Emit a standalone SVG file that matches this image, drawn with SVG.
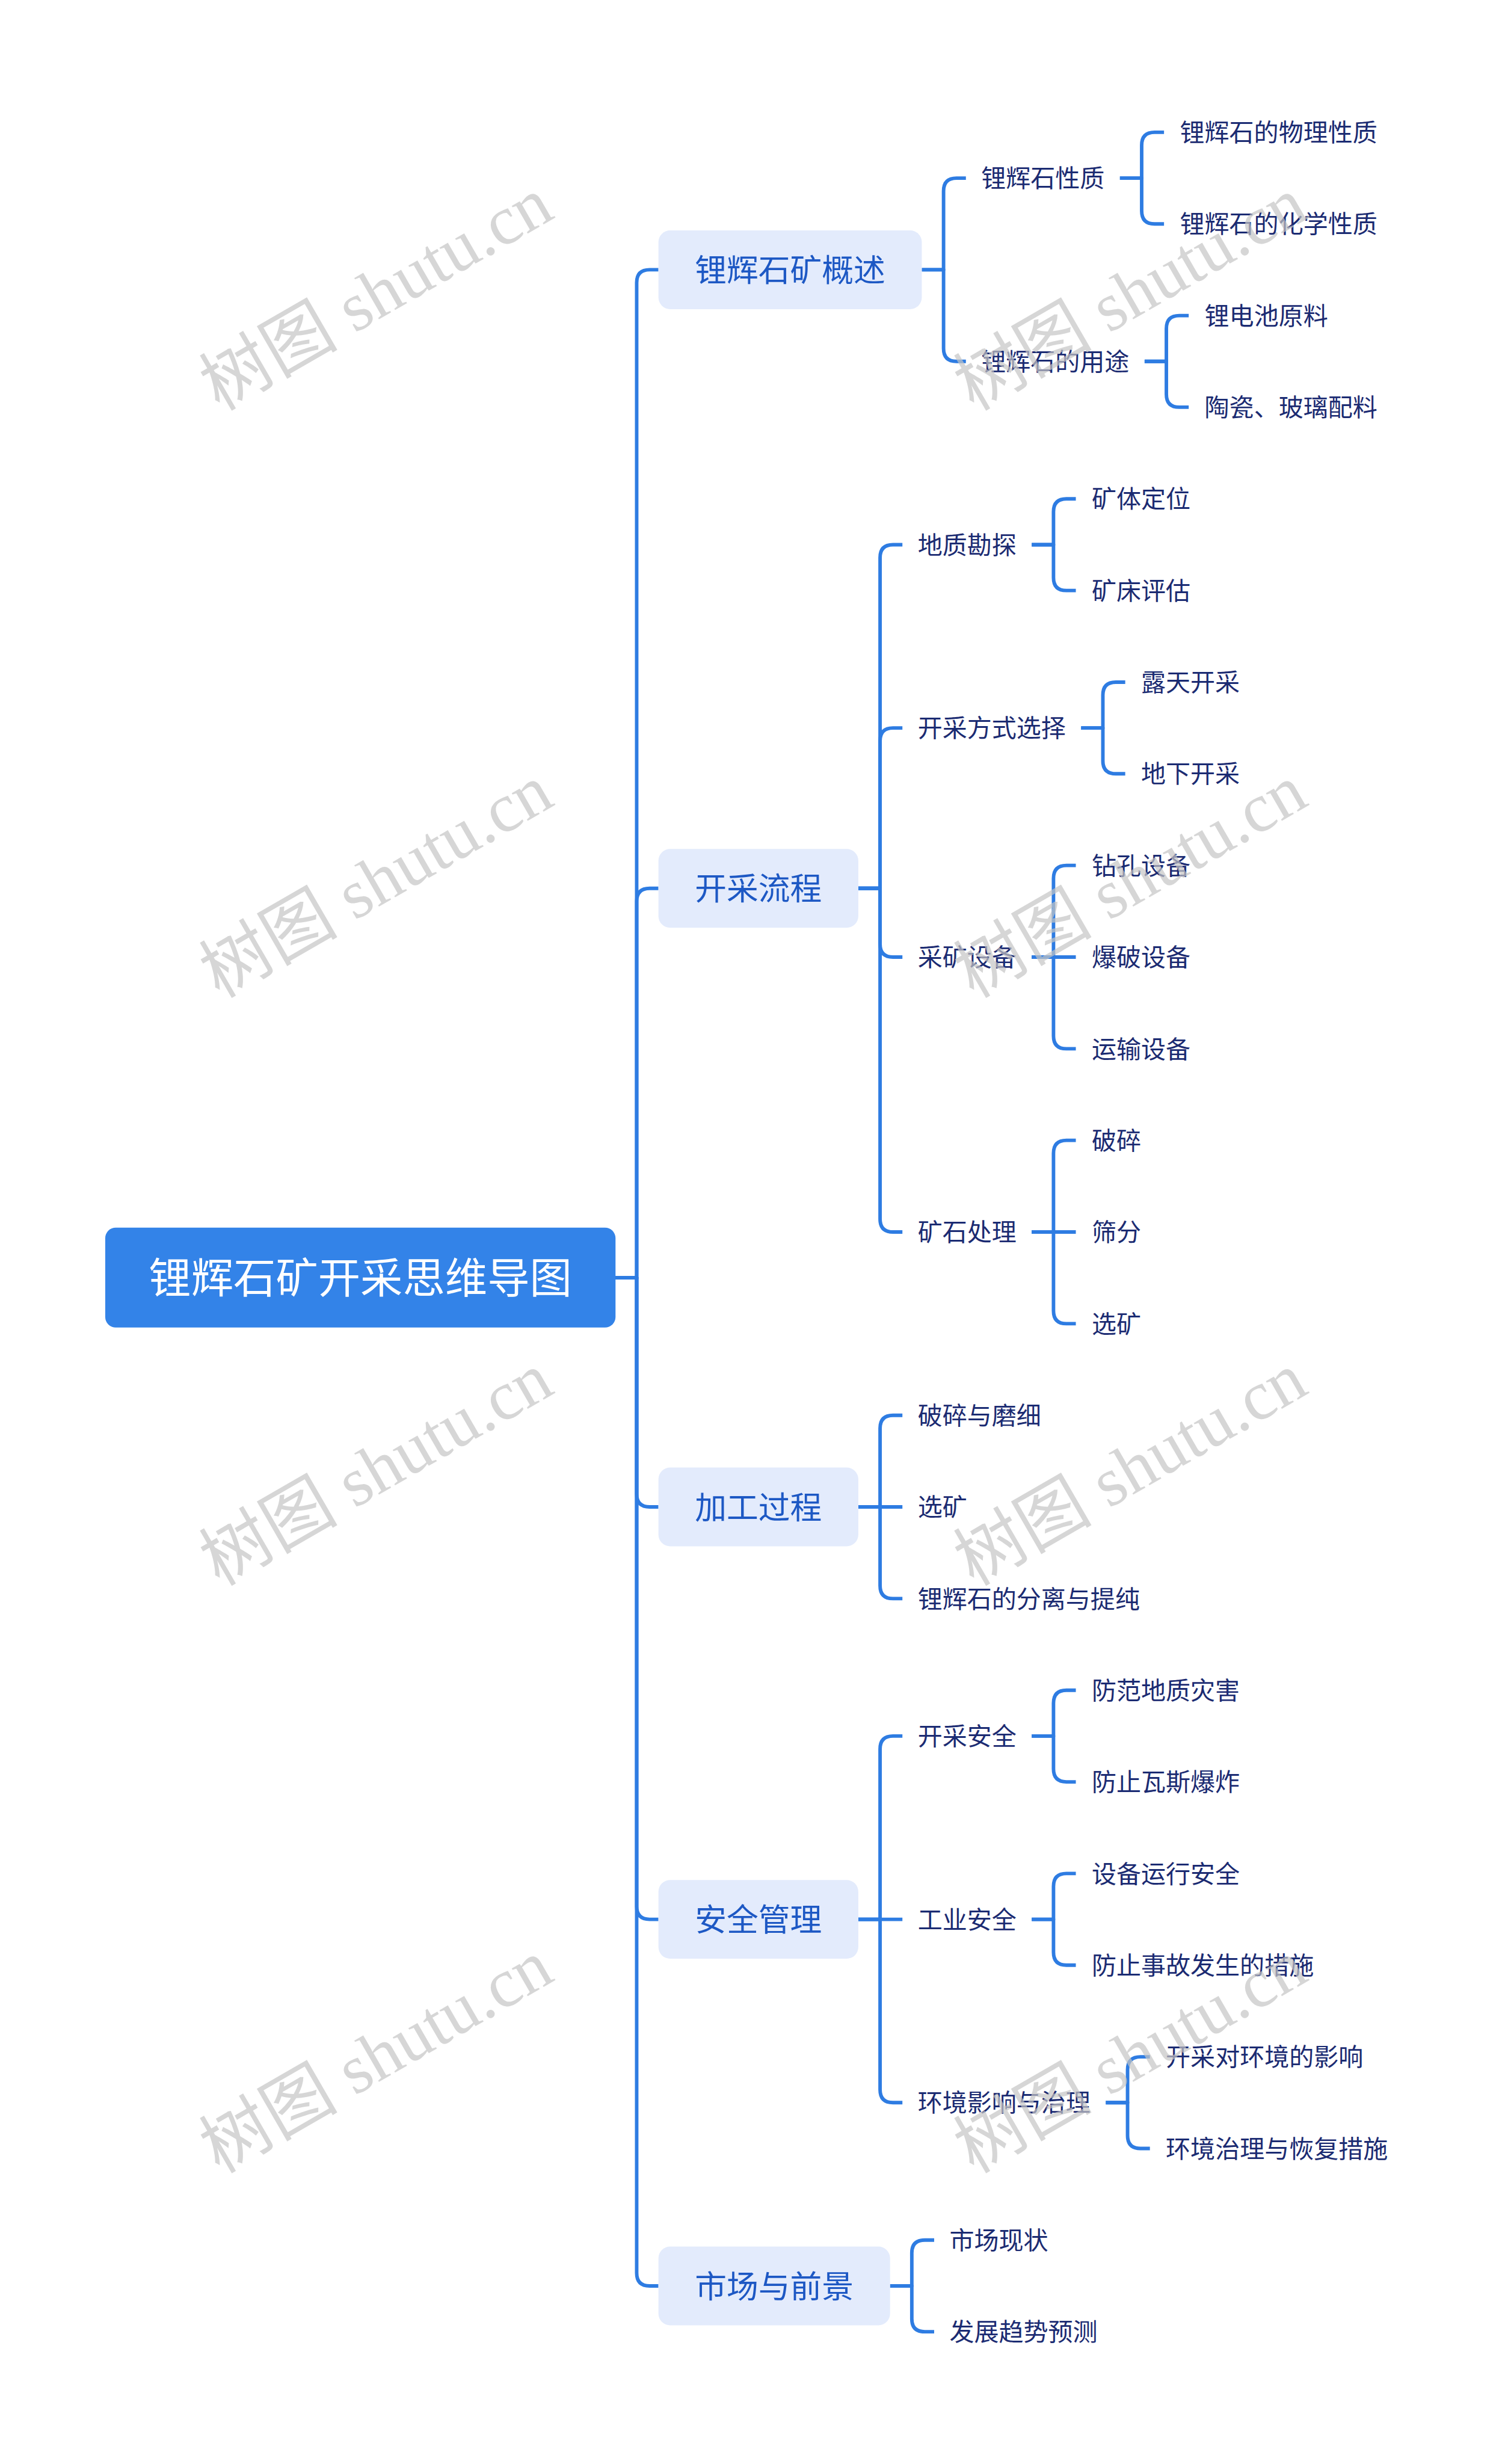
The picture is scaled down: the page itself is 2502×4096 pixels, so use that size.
<svg xmlns="http://www.w3.org/2000/svg" width="2502" height="4096" viewBox="0 0 2502 4096">
<style>
.ln{fill:none;stroke:#2e7ce2;stroke-width:6;stroke-linecap:butt;stroke-linejoin:round}
.rootbox{fill:#3383e8}
.rt{font-family:"Noto Sans CJK SC",sans-serif;font-size:72px;fill:#ffffff;text-anchor:middle}
.b1{fill:#e3ebfc}
.t1{font-family:"Noto Sans CJK SC",sans-serif;font-size:54px;fill:#1d58c4;text-anchor:middle}
.t{font-family:"Noto Sans CJK SC",sans-serif;font-size:42px;fill:#1b2b72}
.wm{font-family:"Liberation Serif","Noto Sans CJK SC",serif;font-size:118px;fill:#c4c4c4;fill-opacity:0.7}
</style>
<rect width="2502" height="4096" fill="#ffffff"/>
<g transform="scale(0.97734)">
<g id="connectors">
<path class="ln" d="M1047,2173.4 H1083 V480.8 Q1083,458.8 1105,458.8 H1120"/>
<path class="ln" d="M1047,2173.4 H1083 V1533 Q1083,1511 1105,1511 H1120"/>
<path class="ln" d="M1047,2173.4 H1083 V2541.1 Q1083,2563.1 1105,2563.1 H1120"/>
<path class="ln" d="M1047,2173.4 H1083 V3242.6 Q1083,3264.6 1105,3264.6 H1120"/>
<path class="ln" d="M1047,2173.4 H1083 V3866.1 Q1083,3888.1 1105,3888.1 H1120"/>
<path class="ln" d="M1568,458.8 H1605 V325 Q1605,303 1627,303 H1643"/>
<path class="ln" d="M1568,458.8 H1605 V592.7 Q1605,614.7 1627,614.7 H1643"/>
<path class="ln" d="M1905,303 H1942 V247 Q1942,225 1964,225 H1980"/>
<path class="ln" d="M1905,303 H1942 V358.9 Q1942,380.9 1964,380.9 H1980"/>
<path class="ln" d="M1947,614.7 H1984 V558.8 Q1984,536.8 2006,536.8 H2022"/>
<path class="ln" d="M1947,614.7 H1984 V670.6 Q1984,692.6 2006,692.6 H2022"/>
<path class="ln" d="M1460,1511 H1497 V948.5 Q1497,926.5 1519,926.5 H1535"/>
<path class="ln" d="M1460,1511 H1497 V1260.2 Q1497,1238.2 1519,1238.2 H1535"/>
<path class="ln" d="M1460,1511 H1497 V1605.9 Q1497,1627.9 1519,1627.9 H1535"/>
<path class="ln" d="M1460,1511 H1497 V2073.5 Q1497,2095.5 1519,2095.5 H1535"/>
<path class="ln" d="M1755,926.5 H1792 V870.5 Q1792,848.5 1814,848.5 H1830"/>
<path class="ln" d="M1755,926.5 H1792 V982.4 Q1792,1004.4 1814,1004.4 H1830"/>
<path class="ln" d="M1839,1238.2 H1876 V1182.3 Q1876,1160.3 1898,1160.3 H1914"/>
<path class="ln" d="M1839,1238.2 H1876 V1294.1 Q1876,1316.1 1898,1316.1 H1914"/>
<path class="ln" d="M1755,1627.9 H1792 V1494 Q1792,1472 1814,1472 H1830"/>
<path class="ln" d="M1755,1627.9 H1830"/>
<path class="ln" d="M1755,1627.9 H1792 V1761.8 Q1792,1783.8 1814,1783.8 H1830"/>
<path class="ln" d="M1755,2095.5 H1792 V1961.6 Q1792,1939.6 1814,1939.6 H1830"/>
<path class="ln" d="M1755,2095.5 H1830"/>
<path class="ln" d="M1755,2095.5 H1792 V2229.4 Q1792,2251.4 1814,2251.4 H1830"/>
<path class="ln" d="M1460,2563.1 H1497 V2429.3 Q1497,2407.3 1519,2407.3 H1535"/>
<path class="ln" d="M1460,2563.1 H1535"/>
<path class="ln" d="M1460,2563.1 H1497 V2697 Q1497,2719 1519,2719 H1535"/>
<path class="ln" d="M1460,3264.6 H1497 V2974.8 Q1497,2952.8 1519,2952.8 H1535"/>
<path class="ln" d="M1460,3264.6 H1535"/>
<path class="ln" d="M1460,3264.6 H1497 V3554.3 Q1497,3576.3 1519,3576.3 H1535"/>
<path class="ln" d="M1755,2952.8 H1792 V2896.9 Q1792,2874.9 1814,2874.9 H1830"/>
<path class="ln" d="M1755,2952.8 H1792 V3008.8 Q1792,3030.8 1814,3030.8 H1830"/>
<path class="ln" d="M1755,3264.6 H1792 V3208.6 Q1792,3186.6 1814,3186.6 H1830"/>
<path class="ln" d="M1755,3264.6 H1792 V3320.5 Q1792,3342.5 1814,3342.5 H1830"/>
<path class="ln" d="M1881,3576.3 H1918 V3520.4 Q1918,3498.4 1940,3498.4 H1956"/>
<path class="ln" d="M1881,3576.3 H1918 V3632.3 Q1918,3654.3 1940,3654.3 H1956"/>
<path class="ln" d="M1514,3888.1 H1551 V3832.1 Q1551,3810.1 1573,3810.1 H1589"/>
<path class="ln" d="M1514,3888.1 H1551 V3944 Q1551,3966 1573,3966 H1589"/>
</g>
<g id="root"><rect class="rootbox" x="179" y="2088" width="868" height="170" rx="18"/><text class="rt" x="613" y="2200">锂辉石矿开采思维导图</text></g>
<g id="n-A"><rect class="b1" x="1120" y="391.8" width="448" height="134" rx="20"/><text class="t1" x="1344" y="478.8">锂辉石矿概述</text></g>
<g id="n-B"><rect class="b1" x="1120" y="1444" width="340" height="134" rx="20"/><text class="t1" x="1290" y="1531">开采流程</text></g>
<g id="n-C"><rect class="b1" x="1120" y="2496.1" width="340" height="134" rx="20"/><text class="t1" x="1290" y="2583.1">加工过程</text></g>
<g id="n-D"><rect class="b1" x="1120" y="3197.6" width="340" height="134" rx="20"/><text class="t1" x="1290" y="3284.6">安全管理</text></g>
<g id="n-E"><rect class="b1" x="1120" y="3821.1" width="394" height="134" rx="20"/><text class="t1" x="1317" y="3908.1">市场与前景</text></g>
<g id="n-A1"><text class="t" x="1669" y="318.5">锂辉石性质</text></g>
<g id="n-A1a"><text class="t" x="2007" y="240.5">锂辉石的物理性质</text></g>
<g id="n-A1b"><text class="t" x="2007" y="396.4">锂辉石的化学性质</text></g>
<g id="n-A2"><text class="t" x="1669" y="630.2">锂辉石的用途</text></g>
<g id="n-A2a"><text class="t" x="2049" y="552.3">锂电池原料</text></g>
<g id="n-A2b"><text class="t" x="2049" y="708.1">陶瓷、玻璃配料</text></g>
<g id="n-B1"><text class="t" x="1561" y="942">地质勘探</text></g>
<g id="n-B1a"><text class="t" x="1857" y="864">矿体定位</text></g>
<g id="n-B1b"><text class="t" x="1857" y="1019.9">矿床评估</text></g>
<g id="n-B2"><text class="t" x="1561" y="1253.7">开采方式选择</text></g>
<g id="n-B2a"><text class="t" x="1941" y="1175.8">露天开采</text></g>
<g id="n-B2b"><text class="t" x="1941" y="1331.6">地下开采</text></g>
<g id="n-B3"><text class="t" x="1561" y="1643.4">采矿设备</text></g>
<g id="n-B3a"><text class="t" x="1857" y="1487.5">钻孔设备</text></g>
<g id="n-B3b"><text class="t" x="1857" y="1643.4">爆破设备</text></g>
<g id="n-B3c"><text class="t" x="1857" y="1799.3">运输设备</text></g>
<g id="n-B4"><text class="t" x="1561" y="2111">矿石处理</text></g>
<g id="n-B4a"><text class="t" x="1857" y="1955.1">破碎</text></g>
<g id="n-B4b"><text class="t" x="1857" y="2111">筛分</text></g>
<g id="n-B4c"><text class="t" x="1857" y="2266.9">选矿</text></g>
<g id="n-C1"><text class="t" x="1561" y="2422.8">破碎与磨细</text></g>
<g id="n-C2"><text class="t" x="1561" y="2578.6">选矿</text></g>
<g id="n-C3"><text class="t" x="1561" y="2734.5">锂辉石的分离与提纯</text></g>
<g id="n-D1"><text class="t" x="1561" y="2968.3">开采安全</text></g>
<g id="n-D1a"><text class="t" x="1857" y="2890.4">防范地质灾害</text></g>
<g id="n-D1b"><text class="t" x="1857" y="3046.3">防止瓦斯爆炸</text></g>
<g id="n-D2"><text class="t" x="1561" y="3280.1">工业安全</text></g>
<g id="n-D2a"><text class="t" x="1857" y="3202.1">设备运行安全</text></g>
<g id="n-D2b"><text class="t" x="1857" y="3358">防止事故发生的措施</text></g>
<g id="n-D3"><text class="t" x="1561" y="3591.8">环境影响与治理</text></g>
<g id="n-D3a"><text class="t" x="1983" y="3513.9">开采对环境的影响</text></g>
<g id="n-D3b"><text class="t" x="1983" y="3669.8">环境治理与恢复措施</text></g>
<g id="n-E1"><text class="t" x="1615" y="3825.6">市场现状</text></g>
<g id="n-E2"><text class="t" x="1615" y="3981.5">发展趋势预测</text></g>
<g id="watermark">
<text class="wm" x="373" y="700" transform="rotate(-30 373 700)">树图 shutu.cn</text>
<text class="wm" x="373" y="1699" transform="rotate(-30 373 1699)">树图 shutu.cn</text>
<text class="wm" x="373" y="2699" transform="rotate(-30 373 2699)">树图 shutu.cn</text>
<text class="wm" x="373" y="3698" transform="rotate(-30 373 3698)">树图 shutu.cn</text>
<text class="wm" x="1656" y="700" transform="rotate(-30 1656 700)">树图 shutu.cn</text>
<text class="wm" x="1656" y="1699" transform="rotate(-30 1656 1699)">树图 shutu.cn</text>
<text class="wm" x="1656" y="2699" transform="rotate(-30 1656 2699)">树图 shutu.cn</text>
<text class="wm" x="1656" y="3698" transform="rotate(-30 1656 3698)">树图 shutu.cn</text>
</g>
</g>
</svg>
